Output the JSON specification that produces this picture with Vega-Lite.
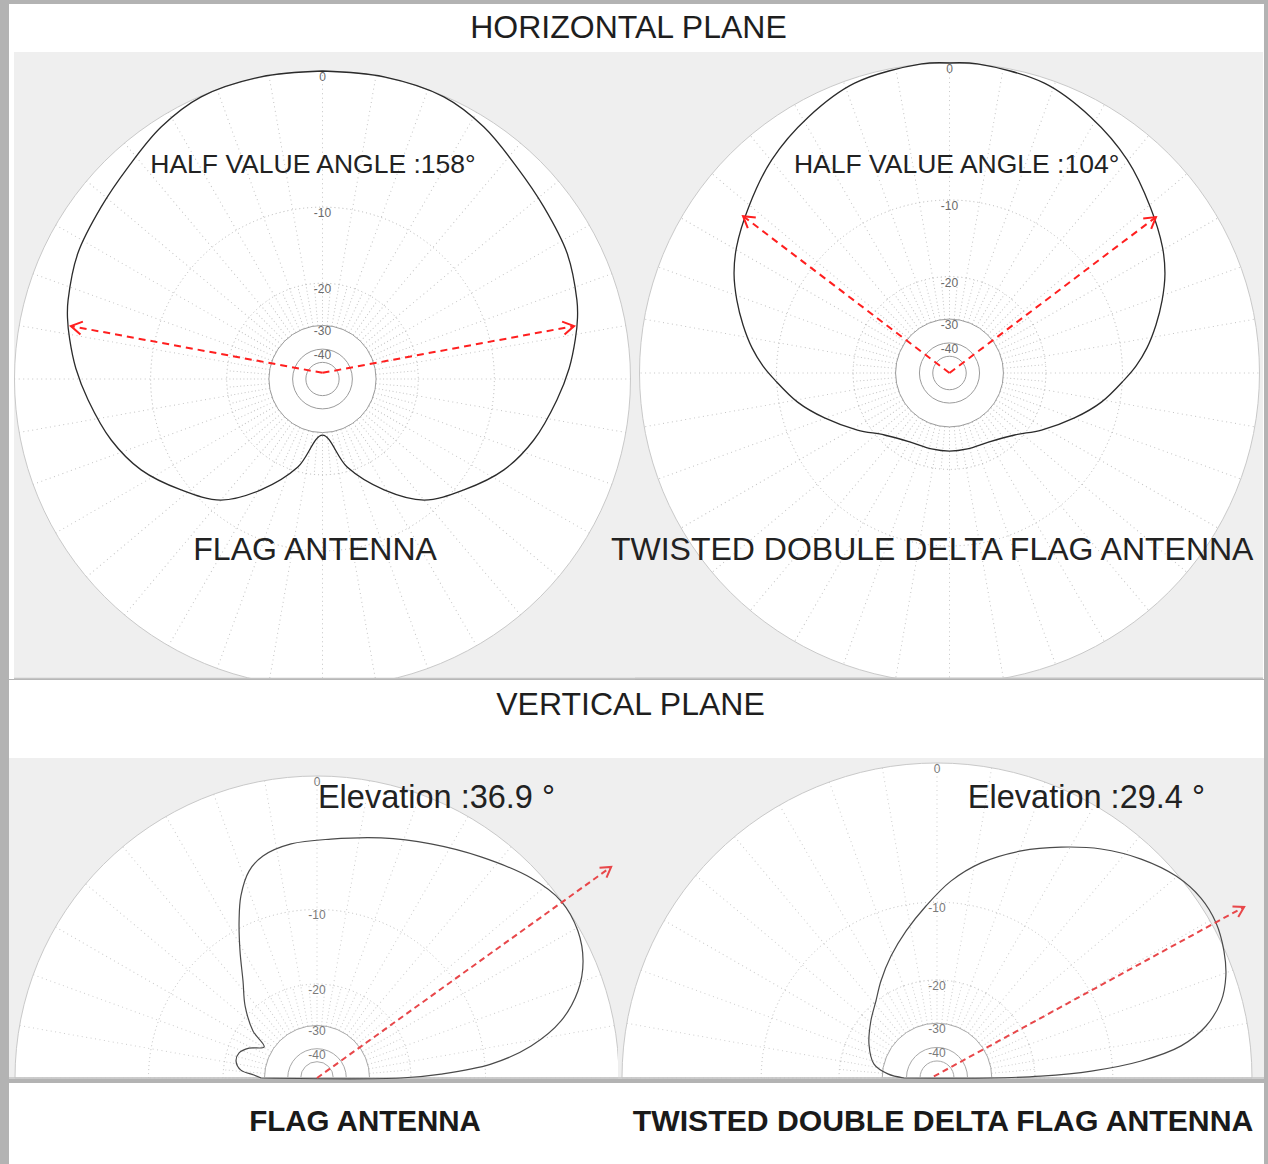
{
  "$schema": "https://vega.github.io/schema/vega-lite/v6.json",
  "background": "#b3b3b3",
  "padding": {"left": 8, "top": 4, "right": 5, "bottom": 0},
  "spacing": 0,
  "resolve": {"scale": {"radius": "independent"}},
  "config": {
    "view": {"stroke": null},
    "axis": {"disable": true},
    "concat": {"spacing": 0}
  },
  "datasets": {
    "spokes10": [{"a":0},{"a":10},{"a":20},{"a":30},{"a":40},{"a":50},{"a":60},{"a":70},{"a":80},{"a":90},{"a":100},{"a":110},{"a":120},{"a":130},{"a":140},{"a":150},{"a":160},{"a":170},{"a":180},{"a":190},{"a":200},{"a":210},{"a":220},{"a":230},{"a":240},{"a":250},{"a":260},{"a":270},{"a":280},{"a":290},{"a":300},{"a":310},{"a":320},{"a":330},{"a":340},{"a":350}],
    "spokes5": [{"a":0},{"a":5},{"a":10},{"a":15},{"a":20},{"a":25},{"a":30},{"a":35},{"a":40},{"a":45},{"a":50},{"a":55},{"a":60},{"a":65},{"a":70},{"a":75},{"a":80},{"a":85},{"a":90},{"a":95},{"a":100},{"a":105},{"a":110},{"a":115},{"a":120},{"a":125},{"a":130},{"a":135},{"a":140},{"a":145},{"a":150},{"a":155},{"a":160},{"a":165},{"a":170},{"a":175},{"a":180},{"a":185},{"a":190},{"a":195},{"a":200},{"a":205},{"a":210},{"a":215},{"a":220},{"a":225},{"a":230},{"a":235},{"a":240},{"a":245},{"a":250},{"a":255},{"a":260},{"a":265},{"a":270},{"a":275},{"a":280},{"a":285},{"a":290},{"a":295},{"a":300},{"a":305},{"a":310},{"a":315},{"a":320},{"a":325},{"a":330},{"a":335},{"a":340},{"a":345},{"a":350},{"a":355}],
    "ringLabels": [{"r":1,"t":"0"},{"r":0.558,"t":"-10"},{"r":0.311,"t":"-20"},{"r":0.174,"t":"-30"},{"r":0.097,"t":"-40"}],
    "dotRings": [{"r":0.558},{"r":0.311}],
    "solidRings": [{"r":0.174},{"r":0.097},{"r":0.054}],
    "h1": [{"x":0,"y":1},{"x":0.2,"y":0.981},{"x":0.394,"y":0.916},{"x":0.524,"y":0.818},{"x":0.631,"y":0.688},{"x":0.719,"y":0.558},{"x":0.794,"y":0.409},{"x":0.826,"y":0.256},{"x":0.828,"y":0.2},{"x":0.821,"y":0.13},{"x":0.801,"y":0.035},{"x":0.761,"y":-0.068},{"x":0.686,"y":-0.198},{"x":0.589,"y":-0.295},{"x":0.459,"y":-0.36},{"x":0.33,"y":-0.393},{"x":0.2,"y":-0.36},{"x":0.08,"y":-0.286},{"x":0,"y":-0.182},{"x":-0.08,"y":-0.286},{"x":-0.2,"y":-0.36},{"x":-0.33,"y":-0.393},{"x":-0.459,"y":-0.36},{"x":-0.589,"y":-0.295},{"x":-0.686,"y":-0.198},{"x":-0.761,"y":-0.068},{"x":-0.801,"y":0.035},{"x":-0.821,"y":0.13},{"x":-0.828,"y":0.2},{"x":-0.826,"y":0.256},{"x":-0.794,"y":0.409},{"x":-0.719,"y":0.558},{"x":-0.631,"y":0.688},{"x":-0.524,"y":0.818},{"x":-0.394,"y":0.916},{"x":-0.2,"y":0.981},{"x":0,"y":1}],
    "h2": [{"x":0,"y":1},{"x":0.09,"y":0.997},{"x":0.306,"y":0.935},{"x":0.455,"y":0.826},{"x":0.574,"y":0.687},{"x":0.648,"y":0.535},{"x":0.687,"y":0.406},{"x":0.695,"y":0.32},{"x":0.686,"y":0.235},{"x":0.666,"y":0.155},{"x":0.637,"y":0.081},{"x":0.602,"y":0.023},{"x":0.563,"y":-0.023},{"x":0.49,"y":-0.094},{"x":0.403,"y":-0.145},{"x":0.297,"y":-0.184},{"x":0.21,"y":-0.2},{"x":0.126,"y":-0.223},{"x":0.058,"y":-0.245},{"x":0,"y":-0.252},{"x":-0.058,"y":-0.245},{"x":-0.126,"y":-0.223},{"x":-0.21,"y":-0.2},{"x":-0.297,"y":-0.184},{"x":-0.403,"y":-0.145},{"x":-0.49,"y":-0.094},{"x":-0.563,"y":-0.023},{"x":-0.602,"y":0.023},{"x":-0.637,"y":0.081},{"x":-0.666,"y":0.155},{"x":-0.686,"y":0.235},{"x":-0.695,"y":0.32},{"x":-0.687,"y":0.406},{"x":-0.648,"y":0.535},{"x":-0.574,"y":0.687},{"x":-0.455,"y":0.826},{"x":-0.306,"y":0.935},{"x":-0.09,"y":0.997},{"x":0,"y":1}],
    "v1": [{"x":-0.185,"y":0},{"x":-0.209,"y":0.01},{"x":-0.252,"y":0.026},{"x":-0.268,"y":0.056},{"x":-0.258,"y":0.083},{"x":-0.225,"y":0.099},{"x":-0.175,"y":0.103},{"x":-0.212,"y":0.156},{"x":-0.238,"y":0.238},{"x":-0.245,"y":0.321},{"x":-0.255,"y":0.421},{"x":-0.258,"y":0.52},{"x":-0.252,"y":0.603},{"x":-0.225,"y":0.685},{"x":-0.179,"y":0.735},{"x":-0.086,"y":0.775},{"x":0.046,"y":0.791},{"x":0.212,"y":0.795},{"x":0.377,"y":0.775},{"x":0.543,"y":0.732},{"x":0.709,"y":0.662},{"x":0.808,"y":0.586},{"x":0.864,"y":0.487},{"x":0.881,"y":0.387},{"x":0.864,"y":0.288},{"x":0.808,"y":0.189},{"x":0.709,"y":0.106},{"x":0.576,"y":0.046},{"x":0.411,"y":0.013},{"x":0.278,"y":0},{"x":-0.185,"y":0}],
    "v2": [{"x":-0.105,"y":0},{"x":-0.156,"y":0.013},{"x":-0.2,"y":0.044},{"x":-0.216,"y":0.108},{"x":-0.21,"y":0.181},{"x":-0.194,"y":0.244},{"x":-0.178,"y":0.308},{"x":-0.146,"y":0.387},{"x":-0.098,"y":0.467},{"x":-0.035,"y":0.546},{"x":0.044,"y":0.625},{"x":0.14,"y":0.683},{"x":0.267,"y":0.721},{"x":0.394,"y":0.733},{"x":0.521,"y":0.727},{"x":0.648,"y":0.695},{"x":0.759,"y":0.641},{"x":0.838,"y":0.571},{"x":0.886,"y":0.492},{"x":0.911,"y":0.403},{"x":0.917,"y":0.324},{"x":0.902,"y":0.244},{"x":0.854,"y":0.165},{"x":0.775,"y":0.102},{"x":0.648,"y":0.054},{"x":0.49,"y":0.022},{"x":0.33,"y":0.006},{"x":0.171,"y":0},{"x":-0.105,"y":0}],
    "h1arrow": [{"id":"l","x":0,"y":0.02},{"id":"l","x":-0.817,"y":0.172},{"id":"r","x":0,"y":0.02},{"id":"r","x":0.817,"y":0.172}],
    "h1head": [{"x":-0.817,"y":0.172,"ang":190.6},{"x":0.817,"y":0.172,"ang":349.4}],
    "h2arrow": [{"id":"l","x":0,"y":0},{"id":"l","x":-0.666,"y":0.506},{"id":"r","x":0,"y":0},{"id":"r","x":0.666,"y":0.503}],
    "h2head": [{"x":-0.666,"y":0.506,"ang":217.2},{"x":0.666,"y":0.503,"ang":322.8}],
    "v1arrow": [{"id":"a","x":0,"y":0},{"id":"a","x":0.974,"y":0.699}],
    "v1head": [{"x":0.974,"y":0.699,"ang":324.3}],
    "v2arrow": [{"id":"a","x":-0.01,"y":0.005},{"id":"a","x":0.975,"y":0.543}],
    "v2head": [{"x":0.975,"y":0.543,"ang":331.2}]
  },
  "vconcat": [
    {
      "width": 1255, "height": 48,
      "view": {"fill": "#ffffff", "stroke": null},
      "data": {"values": [{"t": "HORIZONTAL PLANE"}]},
      "mark": {"type": "text", "font": "Liberation Sans", "fontSize": 32, "fill": "#1e1e1e", "baseline": "middle", "dx": -8},
      "encoding": {"text": {"field": "t"}}
    },
    {
      "bounds": "flush",
      "spacing": 0,
      "resolve": {"scale": {"radius": "independent", "x": "independent", "y": "independent"}},
      "hconcat": [
        {
          "width": 5, "height": 627,
          "view": {"fill": "#ffffff", "stroke": null},
          "data": {"values": [{"t": ""}]},
          "mark": {"type": "text"},
          "encoding": {"text": {"field": "t"}}
        },
        {
          "width": 621, "height": 627,
          "view": {"fill": "#efefef", "stroke": null},
          "layer": [
            {
              "data": {"values": [{"r": 1}]},
              "mark": {"type": "arc", "theta": 0, "theta2": 6.2832, "fill": "#ffffff", "stroke": "#c9c9c9", "strokeWidth": 1, "clip": true},
              "encoding": {
                "x": {"datum": 0, "type": "quantitative", "scale": {"domain": [-1.0016, 1.0146], "nice": false, "zero": false}},
                "y": {"datum": 0, "type": "quantitative", "scale": {"domain": [-0.974, 1.0617], "nice": false, "zero": false}},
                "radius": {"field": "r", "type": "quantitative", "stack": null, "scale": {"type": "linear", "domain": [0, 1], "range": [0, 308], "zero": true, "nice": false}}
              }
            },
            {
              "data": {"name": "spokes10"},
              "mark": {"type": "point", "shape": "M0,-0.311L0,-1", "size": 379456, "filled": false, "stroke": "#c4c4c4", "strokeWidth": 1, "strokeDash": [1, 3.5], "opacity": 1, "clip": true},
              "encoding": {
                "x": {"datum": 0, "type": "quantitative"},
                "y": {"datum": 0, "type": "quantitative"},
                "angle": {"field": "a", "type": "quantitative", "scale": null}
              }
            },
            {
              "data": {"name": "spokes5"},
              "mark": {"type": "point", "shape": "M0,-0.174L0,-0.311", "size": 379456, "filled": false, "stroke": "#c4c4c4", "strokeWidth": 1, "strokeDash": [1, 2.5], "opacity": 1, "clip": true},
              "encoding": {
                "x": {"datum": 0, "type": "quantitative"},
                "y": {"datum": 0, "type": "quantitative"},
                "angle": {"field": "a", "type": "quantitative", "scale": null}
              }
            },
            {
              "data": {"name": "dotRings"},
              "mark": {"type": "arc", "theta": 0, "theta2": 6.2832, "filled": false, "stroke": "#b5b5b5", "strokeWidth": 1, "strokeDash": [1, 3], "clip": true},
              "encoding": {
                "x": {"datum": 0, "type": "quantitative"},
                "y": {"datum": 0, "type": "quantitative"},
                "radius": {"field": "r", "type": "quantitative", "stack": null, "scale": {"type": "linear", "domain": [0, 1], "range": [0, 308], "zero": true, "nice": false}}
              }
            },
            {
              "data": {"name": "solidRings"},
              "mark": {"type": "arc", "theta": 0, "theta2": 6.2832, "filled": false, "stroke": "#9c9c9c", "strokeWidth": 1, "clip": true},
              "encoding": {
                "x": {"datum": 0, "type": "quantitative"},
                "y": {"datum": 0, "type": "quantitative"},
                "radius": {"field": "r", "type": "quantitative", "stack": null, "scale": {"type": "linear", "domain": [0, 1], "range": [0, 308], "zero": true, "nice": false}}
              }
            },
            {
              "data": {"name": "ringLabels"},
              "mark": {"type": "text", "font": "Liberation Sans", "fontSize": 12, "fill": "#6a6a6a", "baseline": "top", "dy": 1},
              "encoding": {
                "x": {"datum": 0, "type": "quantitative"},
                "y": {"field": "r", "type": "quantitative"},
                "text": {"field": "t"}
              }
            },
            {
              "data": {"name": "h1"},
              "mark": {"type": "line", "stroke": "#2b2b2b", "strokeWidth": 1.3, "interpolate": "catmull-rom"},
              "encoding": {
                "x": {"field": "x", "type": "quantitative"},
                "y": {"field": "y", "type": "quantitative"},
                "order": {"value": null}
              }
            },
            {
              "data": {"name": "h1arrow"},
              "mark": {"type": "line", "stroke": "#ff1f1f", "strokeWidth": 2, "strokeDash": [7, 5]},
              "encoding": {
                "x": {"field": "x", "type": "quantitative"},
                "y": {"field": "y", "type": "quantitative"},
                "detail": {"field": "id", "type": "nominal"},
                "order": {"value": null}
              }
            },
            {
              "data": {"name": "h1head"},
              "mark": {"type": "point", "shape": "M-1,-0.6L0,0L-1,0.6", "size": 484, "filled": false, "stroke": "#ff1f1f", "strokeWidth": 2, "opacity": 1},
              "encoding": {
                "x": {"field": "x", "type": "quantitative"},
                "y": {"field": "y", "type": "quantitative"},
                "angle": {"field": "ang", "type": "quantitative", "scale": null}
              }
            },
            {
              "data": {"values": [{"x": -0.031, "y": 0.695, "t": "HALF VALUE ANGLE :158°"}]},
              "mark": {"type": "text", "font": "Liberation Sans", "fontSize": 26.5, "fill": "#222222", "align": "center", "baseline": "middle"},
              "encoding": {
                "x": {"field": "x", "type": "quantitative"},
                "y": {"field": "y", "type": "quantitative"},
                "text": {"field": "t"}
              }
            },
            {
              "data": {"values": [{"x": -0.024, "y": -0.555, "t": "FLAG ANTENNA"}]},
              "mark": {"type": "text", "font": "Liberation Sans", "fontSize": 32, "fill": "#222222", "align": "center", "baseline": "middle"},
              "encoding": {
                "x": {"field": "x", "type": "quantitative"},
                "y": {"field": "y", "type": "quantitative"},
                "text": {"field": "t"}
              }
            },
            {
              "data": {"values": [{}]},
              "mark": {"type": "rule", "stroke": "#c4c4c4", "strokeWidth": 1.5},
              "encoding": {"y": {"datum": -0.972, "type": "quantitative"}}
            }
          ]
        },
        {
          "width": 628, "height": 627,
          "view": {"fill": "#efefef", "stroke": null},
          "layer": [
            {
              "data": {"values": [{"r": 1}]},
              "mark": {"type": "arc", "theta": 0, "theta2": 6.2832, "fill": "#ffffff", "stroke": "#c9c9c9", "strokeWidth": 1, "clip": true},
              "encoding": {
                "x": {"datum": 0, "type": "quantitative", "scale": {"domain": [-1.0145, 1.0113], "nice": false, "zero": false}},
                "y": {"datum": 0, "type": "quantitative", "scale": {"domain": [-0.9871, 1.0355], "nice": false, "zero": false}},
                "radius": {"field": "r", "type": "quantitative", "stack": null, "scale": {"type": "linear", "domain": [0, 1], "range": [0, 310], "zero": true, "nice": false}}
              }
            },
            {
              "data": {"name": "spokes10"},
              "mark": {"type": "point", "shape": "M0,-0.311L0,-1", "size": 384400, "filled": false, "stroke": "#c4c4c4", "strokeWidth": 1, "strokeDash": [1, 3.5], "opacity": 1, "clip": true},
              "encoding": {
                "x": {"datum": 0, "type": "quantitative"},
                "y": {"datum": 0, "type": "quantitative"},
                "angle": {"field": "a", "type": "quantitative", "scale": null}
              }
            },
            {
              "data": {"name": "spokes5"},
              "mark": {"type": "point", "shape": "M0,-0.174L0,-0.311", "size": 384400, "filled": false, "stroke": "#c4c4c4", "strokeWidth": 1, "strokeDash": [1, 2.5], "opacity": 1, "clip": true},
              "encoding": {
                "x": {"datum": 0, "type": "quantitative"},
                "y": {"datum": 0, "type": "quantitative"},
                "angle": {"field": "a", "type": "quantitative", "scale": null}
              }
            },
            {
              "data": {"name": "dotRings"},
              "mark": {"type": "arc", "theta": 0, "theta2": 6.2832, "filled": false, "stroke": "#b5b5b5", "strokeWidth": 1, "strokeDash": [1, 3], "clip": true},
              "encoding": {
                "x": {"datum": 0, "type": "quantitative"},
                "y": {"datum": 0, "type": "quantitative"},
                "radius": {"field": "r", "type": "quantitative", "stack": null, "scale": {"type": "linear", "domain": [0, 1], "range": [0, 310], "zero": true, "nice": false}}
              }
            },
            {
              "data": {"name": "solidRings"},
              "mark": {"type": "arc", "theta": 0, "theta2": 6.2832, "filled": false, "stroke": "#9c9c9c", "strokeWidth": 1, "clip": true},
              "encoding": {
                "x": {"datum": 0, "type": "quantitative"},
                "y": {"datum": 0, "type": "quantitative"},
                "radius": {"field": "r", "type": "quantitative", "stack": null, "scale": {"type": "linear", "domain": [0, 1], "range": [0, 310], "zero": true, "nice": false}}
              }
            },
            {
              "data": {"name": "ringLabels"},
              "mark": {"type": "text", "font": "Liberation Sans", "fontSize": 12, "fill": "#6a6a6a", "baseline": "top", "dy": 1},
              "encoding": {
                "x": {"datum": 0, "type": "quantitative"},
                "y": {"field": "r", "type": "quantitative"},
                "text": {"field": "t"}
              }
            },
            {
              "data": {"name": "h2"},
              "mark": {"type": "line", "stroke": "#2b2b2b", "strokeWidth": 1.3, "interpolate": "catmull-rom"},
              "encoding": {
                "x": {"field": "x", "type": "quantitative"},
                "y": {"field": "y", "type": "quantitative"},
                "order": {"value": null}
              }
            },
            {
              "data": {"name": "h2arrow"},
              "mark": {"type": "line", "stroke": "#ff1f1f", "strokeWidth": 2, "strokeDash": [7, 5]},
              "encoding": {
                "x": {"field": "x", "type": "quantitative"},
                "y": {"field": "y", "type": "quantitative"},
                "detail": {"field": "id", "type": "nominal"},
                "order": {"value": null}
              }
            },
            {
              "data": {"name": "h2head"},
              "mark": {"type": "point", "shape": "M-1,-0.6L0,0L-1,0.6", "size": 484, "filled": false, "stroke": "#ff1f1f", "strokeWidth": 2, "opacity": 1},
              "encoding": {
                "x": {"field": "x", "type": "quantitative"},
                "y": {"field": "y", "type": "quantitative"},
                "angle": {"field": "ang", "type": "quantitative", "scale": null}
              }
            },
            {
              "data": {"values": [{"x": 0.023, "y": 0.671, "t": "HALF VALUE ANGLE :104°"}]},
              "mark": {"type": "text", "font": "Liberation Sans", "fontSize": 26.5, "fill": "#222222", "align": "center", "baseline": "middle"},
              "encoding": {
                "x": {"field": "x", "type": "quantitative"},
                "y": {"field": "y", "type": "quantitative"},
                "text": {"field": "t"}
              }
            },
            {
              "data": {"values": [{"x": -1.092, "y": -0.571, "t": "TWISTED DOBULE DELTA FLAG ANTENNA"}]},
              "mark": {"type": "text", "font": "Liberation Sans", "fontSize": 32, "fill": "#222222", "align": "left", "baseline": "middle"},
              "encoding": {
                "x": {"field": "x", "type": "quantitative"},
                "y": {"field": "y", "type": "quantitative"},
                "text": {"field": "t"}
              }
            },
            {
              "data": {"values": [{}]},
              "mark": {"type": "rule", "stroke": "#c4c4c4", "strokeWidth": 1.5},
              "encoding": {"y": {"datum": -0.985, "type": "quantitative"}}
            }
          ]
        },
        {
          "width": 1, "height": 627,
          "view": {"fill": "#ffffff", "stroke": null},
          "data": {"values": [{"t": ""}]},
          "mark": {"type": "text"},
          "encoding": {"text": {"field": "t"}}
        }
      ]
    },
    {
      "width": 1255, "height": 78,
      "view": {"fill": "#ffffff", "stroke": null},
      "data": {"values": [{"t": "VERTICAL PLANE"}]},
      "mark": {"type": "text", "font": "Liberation Sans", "fontSize": 32, "fill": "#1e1e1e", "baseline": "middle", "dx": -6, "dy": -14},
      "encoding": {"text": {"field": "t"}}
    },
    {
      "bounds": "flush",
      "spacing": 0,
      "resolve": {"scale": {"radius": "independent", "x": "independent", "y": "independent"}},
      "hconcat": [
        {
          "width": 609, "height": 321,
          "view": {"fill": "#efefef", "stroke": null},
          "layer": [
            {
              "data": {"values": [{"r": 1}]},
              "mark": {"type": "arc", "theta": -1.5708, "theta2": 1.5708, "fill": "#ffffff", "stroke": "#c9c9c9", "strokeWidth": 1, "clip": true},
              "encoding": {
                "x": {"datum": 0, "type": "quantitative", "scale": {"domain": [-1.0199, 0.9967], "nice": false, "zero": false}},
                "y": {"datum": 0, "type": "quantitative", "scale": {"domain": [-0.0033, 1.0596], "nice": false, "zero": false}},
                "radius": {"field": "r", "type": "quantitative", "stack": null, "scale": {"type": "linear", "domain": [0, 1], "range": [0, 302], "zero": true, "nice": false}}
              }
            },
            {
              "data": {"name": "spokes10"},
              "transform": [{"filter": "datum.a <= 90 || datum.a >= 270"}],
              "mark": {"type": "point", "shape": "M0,-0.311L0,-1", "size": 364816, "filled": false, "stroke": "#cdcdcd", "strokeWidth": 1, "strokeDash": [1, 3.5], "opacity": 1, "clip": true},
              "encoding": {
                "x": {"datum": 0, "type": "quantitative"},
                "y": {"datum": 0, "type": "quantitative"},
                "angle": {"field": "a", "type": "quantitative", "scale": null}
              }
            },
            {
              "data": {"name": "spokes5"},
              "transform": [{"filter": "datum.a <= 90 || datum.a >= 270"}],
              "mark": {"type": "point", "shape": "M0,-0.174L0,-0.311", "size": 364816, "filled": false, "stroke": "#cdcdcd", "strokeWidth": 1, "strokeDash": [1, 2.5], "opacity": 1, "clip": true},
              "encoding": {
                "x": {"datum": 0, "type": "quantitative"},
                "y": {"datum": 0, "type": "quantitative"},
                "angle": {"field": "a", "type": "quantitative", "scale": null}
              }
            },
            {
              "data": {"name": "dotRings"},
              "mark": {"type": "arc", "theta": -1.5708, "theta2": 1.5708, "filled": false, "stroke": "#bdbdbd", "strokeWidth": 1, "strokeDash": [1, 3], "clip": true},
              "encoding": {
                "x": {"datum": 0, "type": "quantitative"},
                "y": {"datum": 0, "type": "quantitative"},
                "radius": {"field": "r", "type": "quantitative", "stack": null, "scale": {"type": "linear", "domain": [0, 1], "range": [0, 302], "zero": true, "nice": false}}
              }
            },
            {
              "data": {"name": "solidRings"},
              "mark": {"type": "arc", "theta": -1.5708, "theta2": 1.5708, "filled": false, "stroke": "#a8a8a8", "strokeWidth": 1, "clip": true},
              "encoding": {
                "x": {"datum": 0, "type": "quantitative"},
                "y": {"datum": 0, "type": "quantitative"},
                "radius": {"field": "r", "type": "quantitative", "stack": null, "scale": {"type": "linear", "domain": [0, 1], "range": [0, 302], "zero": true, "nice": false}}
              }
            },
            {
              "data": {"name": "ringLabels"},
              "mark": {"type": "text", "font": "Liberation Sans", "fontSize": 12, "fill": "#7a7a7a", "baseline": "top", "dy": 1},
              "encoding": {
                "x": {"datum": 0, "type": "quantitative"},
                "y": {"field": "r", "type": "quantitative"},
                "text": {"field": "t"}
              }
            },
            {
              "data": {"values": [{}]},
              "mark": {"type": "rule", "stroke": "#c4c4c4", "strokeWidth": 1.5},
              "encoding": {"y": {"datum": 0, "type": "quantitative"}}
            },
            {
              "data": {"name": "v1"},
              "mark": {"type": "line", "stroke": "#4a4a4a", "strokeWidth": 1.2, "interpolate": "catmull-rom"},
              "encoding": {
                "x": {"field": "x", "type": "quantitative"},
                "y": {"field": "y", "type": "quantitative"},
                "order": {"value": null}
              }
            },
            {
              "data": {"name": "v1arrow"},
              "mark": {"type": "line", "stroke": "#e8474a", "strokeWidth": 2, "strokeDash": [6, 4]},
              "encoding": {
                "x": {"field": "x", "type": "quantitative"},
                "y": {"field": "y", "type": "quantitative"},
                "detail": {"field": "id", "type": "nominal"},
                "order": {"value": null}
              }
            },
            {
              "data": {"name": "v1head"},
              "mark": {"type": "point", "shape": "M-1,-0.6L0,0L-1,0.6", "size": 400, "filled": false, "stroke": "#e8474a", "strokeWidth": 2, "opacity": 1},
              "encoding": {
                "x": {"field": "x", "type": "quantitative"},
                "y": {"field": "y", "type": "quantitative"},
                "angle": {"field": "ang", "type": "quantitative", "scale": null}
              }
            },
            {
              "data": {"values": [{"x": 0.003, "y": 0.927, "t": "Elevation :36.9 °"}]},
              "mark": {"type": "text", "font": "Liberation Sans", "fontSize": 32.5, "fill": "#222222", "align": "left", "baseline": "middle"},
              "encoding": {
                "x": {"field": "x", "type": "quantitative"},
                "y": {"field": "y", "type": "quantitative"},
                "text": {"field": "t"}
              }
            }
          ]
        },
        {
          "width": 646, "height": 321,
          "view": {"fill": "#efefef", "stroke": null},
          "layer": [
            {
              "data": {"values": [{"r": 1}]},
              "mark": {"type": "arc", "theta": -1.5708, "theta2": 1.5708, "fill": "#ffffff", "stroke": "#c9c9c9", "strokeWidth": 1, "clip": true},
              "encoding": {
                "x": {"datum": 0, "type": "quantitative", "scale": {"domain": [-1.0127, 1.0381], "nice": false, "zero": false}},
                "y": {"datum": 0, "type": "quantitative", "scale": {"domain": [-0.0032, 1.0159], "nice": false, "zero": false}},
                "radius": {"field": "r", "type": "quantitative", "stack": null, "scale": {"type": "linear", "domain": [0, 1], "range": [0, 315], "zero": true, "nice": false}}
              }
            },
            {
              "data": {"name": "spokes10"},
              "transform": [{"filter": "datum.a <= 90 || datum.a >= 270"}],
              "mark": {"type": "point", "shape": "M0,-0.311L0,-1", "size": 396900, "filled": false, "stroke": "#cdcdcd", "strokeWidth": 1, "strokeDash": [1, 3.5], "opacity": 1, "clip": true},
              "encoding": {
                "x": {"datum": 0, "type": "quantitative"},
                "y": {"datum": 0, "type": "quantitative"},
                "angle": {"field": "a", "type": "quantitative", "scale": null}
              }
            },
            {
              "data": {"name": "spokes5"},
              "transform": [{"filter": "datum.a <= 90 || datum.a >= 270"}],
              "mark": {"type": "point", "shape": "M0,-0.174L0,-0.311", "size": 396900, "filled": false, "stroke": "#cdcdcd", "strokeWidth": 1, "strokeDash": [1, 2.5], "opacity": 1, "clip": true},
              "encoding": {
                "x": {"datum": 0, "type": "quantitative"},
                "y": {"datum": 0, "type": "quantitative"},
                "angle": {"field": "a", "type": "quantitative", "scale": null}
              }
            },
            {
              "data": {"name": "dotRings"},
              "mark": {"type": "arc", "theta": -1.5708, "theta2": 1.5708, "filled": false, "stroke": "#bdbdbd", "strokeWidth": 1, "strokeDash": [1, 3], "clip": true},
              "encoding": {
                "x": {"datum": 0, "type": "quantitative"},
                "y": {"datum": 0, "type": "quantitative"},
                "radius": {"field": "r", "type": "quantitative", "stack": null, "scale": {"type": "linear", "domain": [0, 1], "range": [0, 315], "zero": true, "nice": false}}
              }
            },
            {
              "data": {"name": "solidRings"},
              "mark": {"type": "arc", "theta": -1.5708, "theta2": 1.5708, "filled": false, "stroke": "#a8a8a8", "strokeWidth": 1, "clip": true},
              "encoding": {
                "x": {"datum": 0, "type": "quantitative"},
                "y": {"datum": 0, "type": "quantitative"},
                "radius": {"field": "r", "type": "quantitative", "stack": null, "scale": {"type": "linear", "domain": [0, 1], "range": [0, 315], "zero": true, "nice": false}}
              }
            },
            {
              "data": {"name": "ringLabels"},
              "mark": {"type": "text", "font": "Liberation Sans", "fontSize": 12, "fill": "#7a7a7a", "baseline": "top", "dy": 1},
              "encoding": {
                "x": {"datum": 0, "type": "quantitative"},
                "y": {"field": "r", "type": "quantitative"},
                "text": {"field": "t"}
              }
            },
            {
              "data": {"values": [{}]},
              "mark": {"type": "rule", "stroke": "#c4c4c4", "strokeWidth": 1.5},
              "encoding": {"y": {"datum": 0, "type": "quantitative"}}
            },
            {
              "data": {"name": "v2"},
              "mark": {"type": "line", "stroke": "#4a4a4a", "strokeWidth": 1.2, "interpolate": "catmull-rom"},
              "encoding": {
                "x": {"field": "x", "type": "quantitative"},
                "y": {"field": "y", "type": "quantitative"},
                "order": {"value": null}
              }
            },
            {
              "data": {"name": "v2arrow"},
              "mark": {"type": "line", "stroke": "#e8474a", "strokeWidth": 2, "strokeDash": [6, 4]},
              "encoding": {
                "x": {"field": "x", "type": "quantitative"},
                "y": {"field": "y", "type": "quantitative"},
                "detail": {"field": "id", "type": "nominal"},
                "order": {"value": null}
              }
            },
            {
              "data": {"name": "v2head"},
              "mark": {"type": "point", "shape": "M-1,-0.6L0,0L-1,0.6", "size": 400, "filled": false, "stroke": "#e8474a", "strokeWidth": 2, "opacity": 1},
              "encoding": {
                "x": {"field": "x", "type": "quantitative"},
                "y": {"field": "y", "type": "quantitative"},
                "angle": {"field": "ang", "type": "quantitative", "scale": null}
              }
            },
            {
              "data": {"values": [{"x": 0.098, "y": 0.889, "t": "Elevation :29.4 °"}]},
              "mark": {"type": "text", "font": "Liberation Sans", "fontSize": 32.5, "fill": "#222222", "align": "left", "baseline": "middle"},
              "encoding": {
                "x": {"field": "x", "type": "quantitative"},
                "y": {"field": "y", "type": "quantitative"},
                "text": {"field": "t"}
              }
            }
          ]
        }
      ]
    },
    {
      "bounds": "flush",
      "spacing": 0,
      "hconcat": [
        {
          "width": 609, "height": 86,
          "view": {"fill": "#ffffff", "stroke": null},
          "data": {"values": [{"t": "FLAG ANTENNA"}]},
          "mark": {"type": "text", "font": "Liberation Sans", "fontWeight": "bold", "fontSize": 29.5, "fill": "#1a1a1a", "baseline": "middle", "dx": 51.5, "dy": -4},
          "encoding": {"text": {"field": "t"}}
        },
        {
          "width": 646, "height": 86,
          "view": {"fill": "#ffffff", "stroke": null},
          "data": {"values": [{"t": "TWISTED DOUBLE DELTA FLAG ANTENNA"}]},
          "mark": {"type": "text", "font": "Liberation Sans", "fontWeight": "bold", "fontSize": 30.2, "fill": "#1a1a1a", "baseline": "middle", "dx": 2, "dy": -4},
          "encoding": {"text": {"field": "t"}}
        }
      ]
    }
  ]
}
